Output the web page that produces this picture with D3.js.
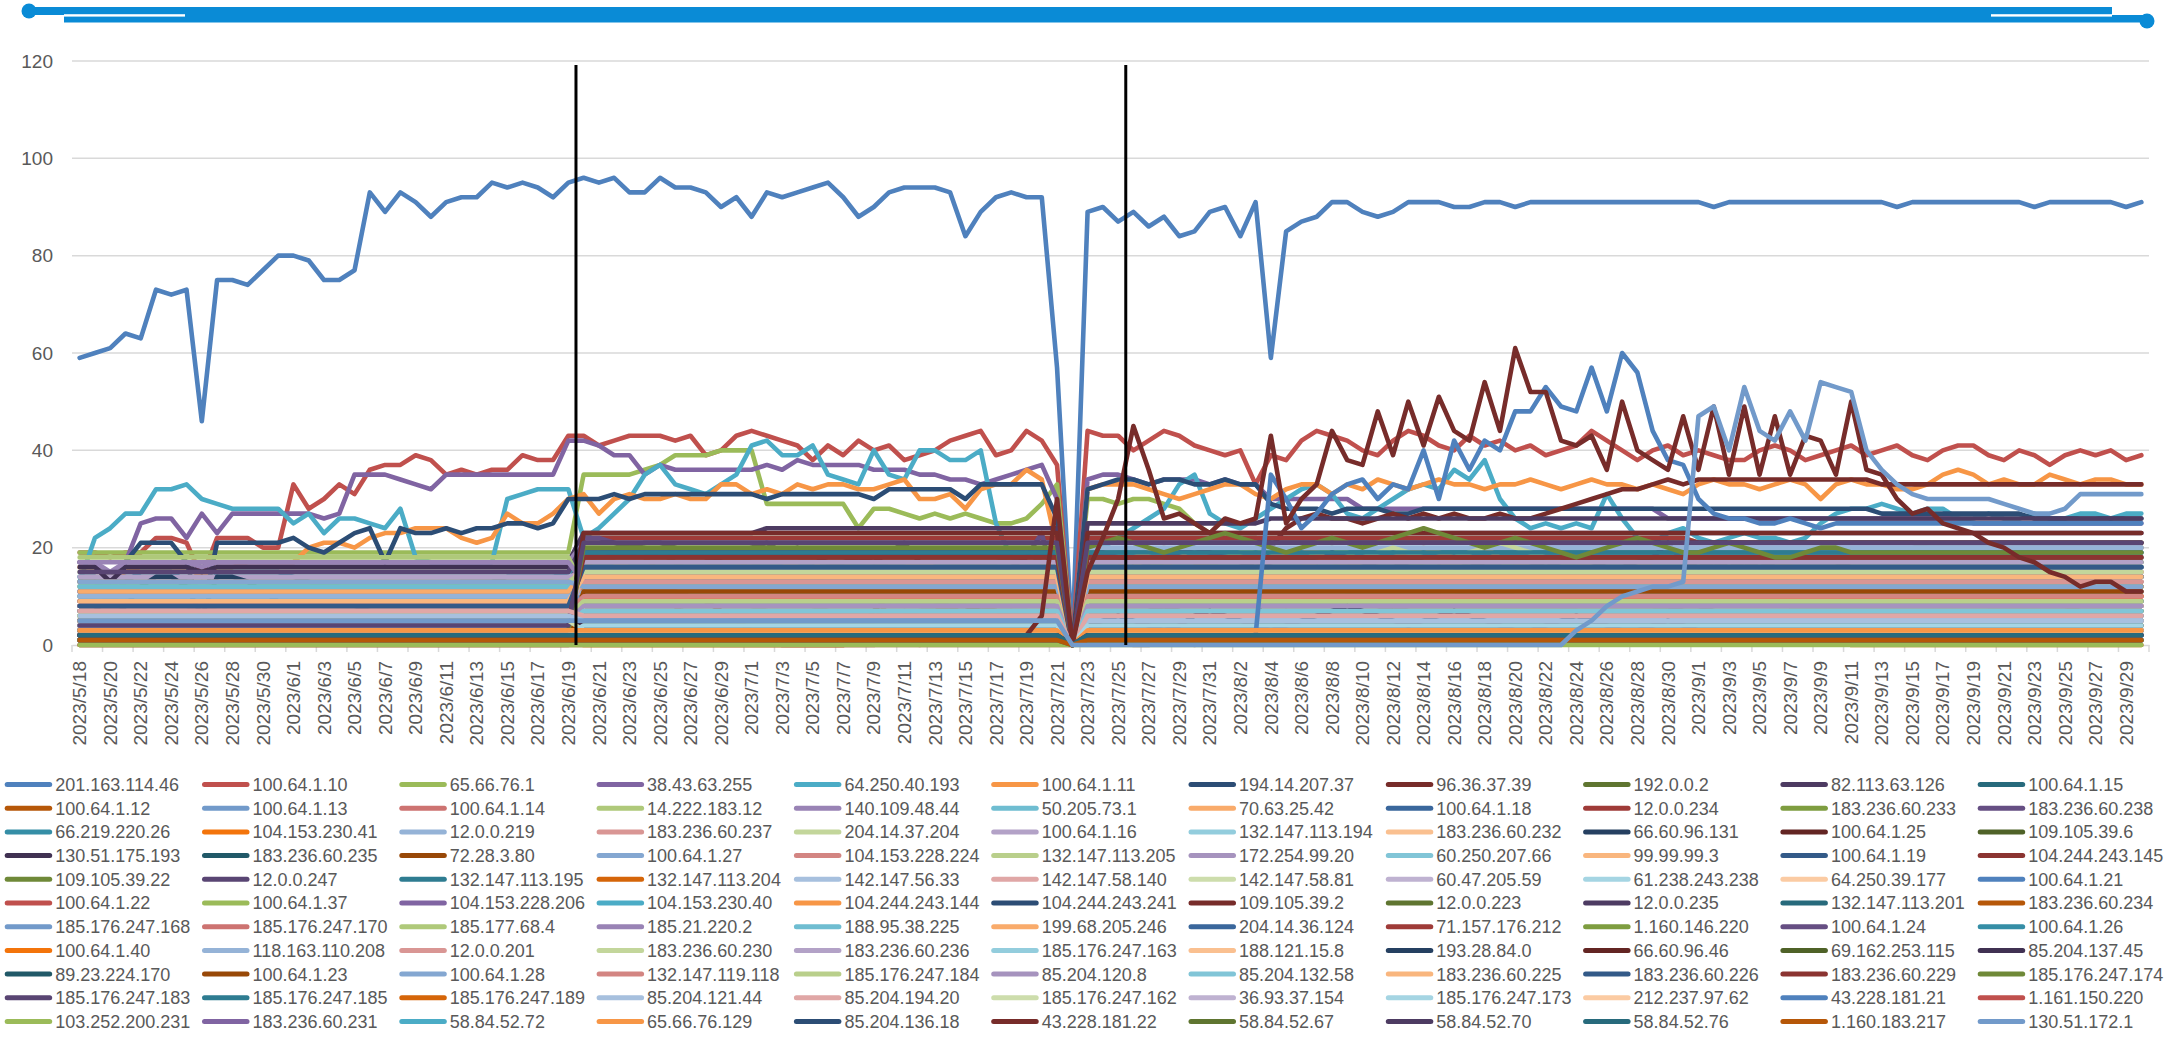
<!DOCTYPE html>
<html><head><meta charset="utf-8">
<script src="https://cdn.jsdelivr.net/npm/d3@7"></script>
<style>body{margin:0;background:#fff}svg{display:block}text{font-family:"Liberation Sans",Arial,sans-serif}</style>
</head><body><svg id="chart" width="2179" height="1048"></svg>
<script>
// ---------- categories ----------
const firstDay = [2023, 4, 18];   // 2023/5/18
const lastDay  = [2023, 8, 30];   // 2023/9/30
const yTicks = [0, 20, 40, 60, 80, 100, 120];
const markerDays = ["2023/6/20", "2023/7/26"];

// ---------- series names (legend order) ----------
const ips = [
"201.163.114.46","100.64.1.10","65.66.76.1","38.43.63.255","64.250.40.193","100.64.1.11","194.14.207.37","96.36.37.39","192.0.0.2","82.113.63.126","100.64.1.15",
"100.64.1.12","100.64.1.13","100.64.1.14","14.222.183.12","140.109.48.44","50.205.73.1","70.63.25.42","100.64.1.18","12.0.0.234","183.236.60.233","183.236.60.238",
"66.219.220.26","104.153.230.41","12.0.0.219","183.236.60.237","204.14.37.204","100.64.1.16","132.147.113.194","183.236.60.232","66.60.96.131","100.64.1.25","109.105.39.6",
"130.51.175.193","183.236.60.235","72.28.3.80","100.64.1.27","104.153.228.224","132.147.113.205","172.254.99.20","60.250.207.66","99.99.99.3","100.64.1.19","104.244.243.145",
"109.105.39.22","12.0.0.247","132.147.113.195","132.147.113.204","142.147.56.33","142.147.58.140","142.147.58.81","60.47.205.59","61.238.243.238","64.250.39.177","100.64.1.21",
"100.64.1.22","100.64.1.37","104.153.228.206","104.153.230.40","104.244.243.144","104.244.243.241","109.105.39.2","12.0.0.223","12.0.0.235","132.147.113.201","183.236.60.234",
"185.176.247.168","185.176.247.170","185.177.68.4","185.21.220.2","188.95.38.225","199.68.205.246","204.14.36.124","71.157.176.212","1.160.146.220","100.64.1.24","100.64.1.26",
"100.64.1.40","118.163.110.208","12.0.0.201","183.236.60.230","183.236.60.236","185.176.247.163","188.121.15.8","193.28.84.0","66.60.96.46","69.162.253.115","85.204.137.45",
"89.23.224.170","100.64.1.23","100.64.1.28","132.147.119.118","185.176.247.184","85.204.120.8","85.204.132.58","183.236.60.225","183.236.60.226","183.236.60.229","185.176.247.174",
"185.176.247.183","185.176.247.185","185.176.247.189","85.204.121.44","85.204.194.20","185.176.247.162","36.93.37.154","185.176.247.173","212.237.97.62","43.228.181.21","1.161.150.220",
"103.252.200.231","183.236.60.231","58.84.52.72","65.66.76.129","85.204.136.18","43.228.181.22","58.84.52.67","58.84.52.70","58.84.52.76","1.160.183.217","130.51.172.1"];

// ---------- reusable value runs ----------
const q1 = "13 13 10 13 15 15 15 13 8 15 15 15 15 15 14 13 12 12 11 11 11 10 10 11 12 13 13 13 14 14 14 14 15";
const q2 = "8 8 5 8 12 14 14 12 6 14 14 13 11 9 9 9 8 8 8 7 7 7 6 6 6 6 6 5 5 5 5 4 4";
const wA = "15 19 19 20 18 15 13 15 16 17 18 15 12 11 14 16 16 17 15 12 10 8 9 10 12 14 17 15 13 11 12 11";
const wB = "10*6 8 6 5 5 6 7 8 9 9 8 7 6 6 5 5 6 7 8 9 10 10 9 8 8 9 4";
const wC = "19 19 17 16 14 13 16 15 12 13 16 16 15 16 17 18 13 11 10 12 16 16 17 16 15 14 12 9 8 9 10 12";
const wD = "0*18 2 5 9 10 9 8 7 9 8 7 7 6 6 5";
const wE = "9*6 8 5 3 0*11 4 2 0 3 5 5 6 5 4 4 6 5";
const wF = "10 11*6 10 9 7 5 3 1 0*19";
const wG = "18 18 18 19 20 19 17 15 16 18 18 17 15 14 15 16 16 16 17 17 16 15 15 16 16 17 16 17 18 19 17 16";
const wH = "22 22 21 20 21 21 20 19 18 18 19 20 21 19 20 18 17 17 18 17 19 21 17 16 15 14 14 15 16 18 23 10";
const pA = "12 14 15 16 18 17 15 13 12 11 10 9 12 14 16 17 18 16 15 14 14 15 16 16 17 15 13 12 12 13 14 15 16 17 18 18 17 16 15 14 13 13 12 12 13 13 14 14 15 15 15 14 14 13 13 13 12 12 12 12 12*10";
const pB = "14 15 16 18 19 20 19 17 16 15 14 16 18 19 20 19 18 17 16 17 18 19 20 19 18 19 20 18 17 16 15 14 13 12 12 11 11 10 10 10 11 12 13 14 15 16 17 18 18 17 16 15 14 13 12 11 10 9 9 8 8*5 7*5";
const pC = "16 15 14 15 16 17 18 17 16 18 19 20 19 18 17 19 20 19 17 16 15 16 17 18 17 16 15 16 17 17 16 15 14 14 13 13 12 12 13 14 14 15 15 14 13 13 12 12 12 12 12*20";
const pD = "5 5 5 6 6 7 8 9 10 11 12 11 10 12 14 15 16 17 18 19 20 19 18 17 18 19 20 21 20 19 18 17 16 14 12 10 9 8 7 7 7 6 6 6 6 5*25";
const pE = "18 19 18 17 17 18 19 20 19 18 17 16 17 18 18 17 19 18 17 16 16 17 18 17 16 16 17 17 18 17 16 17 18 17 16 16 17 18 21 17 16 17 16 17 16 17*5 16*12 15*8";
const pF = "8 9 10 9 8 7 8 9 11 12 11 10 9 8 9 10 11 10 9 8 7 8 9 10 11 12 13 12 11 10 9 8 8 9 10 11 10 9 8 7 7 8 9 10 10 9 8 8 8 8 8*20";
const pG = "20 21 22 21 20 19 20 21 22 23 22 21 20 19 20 21 22 21 20 21 22 23 24 23 22 21 20 21 22 21 20 19 18 19 20 21 22 21 20 19 19 20 21 20 19 18 18 19 20 20 19*20";
const pH = "4 5 6 5 4 3 4 6 7 6 5 4 3 4 5 6 7 8 7 6 5 4 5 6 7 6 5 4 3 3 4 5 6 5 4 3 3 4 5 4 3 3 3 3 3 3*25";

// ---------- series values, one string per series, legend order ----------
const seriesValues = [
/*201.163.114.46*/ "59 60 61 64 63 73 72 73 46 75 75 74 77 80 80 79 75 75 77 93 89 93 91 88 91 92 92 95 94 95 94 92 95 96 95 96 93 93 96 94 94 93 90 92 88 93 92 93 94 95 92 88 90 93 94 94 94 93 84 89 92 93 92 92 57 0 89 90 87 89 86 88 84 85 89 90 84 91 59 85 87 88 91 91 89 88 89 91 91 91 90 90 91 91 90 91*12 90 91*11 90 91*8 90 91*5 90 91",
/*100.64.1.10*/ "19 19 18 19 19 22 22 21 14 22 22 22 20 20 33 28 30 33 31 36 37 37 39 38 35 36 35 36 36 39 38 38 43 43 41 42 43 43 43 42 43 39 40 43 44 43 42 41 38 41 39 42 40 41 38 39 40 42 43 44 39 40 44 42 37 0 44 43 43 40 42 44 43 41 40 39 40 33 39 38 42 44 43 42 40 39 42 44 43 41 40 43 41 42 40 41 39 40 41 44 42 40 38 40 41 39 40 39 38 38 40 41 40 38 39 40 41 39 40 41 39 38 40 41 41 39 38 40 39 37 39 40 39 40 38 39",
/*65.66.76.1*/ "19*33 35 35 35 35 36 37 39 39 39 40 40 40 29 29 29 29 29 29 24 28 28 27 26 27 26 27 26 25 25 26 29 33 0 30 30 29 30 30 29 28 25 23 22 22*30 21*15 20*15",
/*38.43.63.255*/ "17 17 14 17 25 26 26 22 27 23 27 27 27 27 27 27 26 27 35 35 35 34 33 32 35 35 35 35 35 35 35 35 42 42 41 39 39 35 37 36 36 36 36 36 36 37 36 38 37 37 37 37 36 36 36 35 35 34 34 33 34 35 36 37 30 0 34 35 35 34 33 34 34 34 33 34 33 33 30*6 28*20 26*20 25*12",
/*64.250.40.193*/ "13 22 24 27 27 32 32 33 30 29 28 28 28 28 25 27 23 26 26 25 24 28 18 17 17 17 17 17 30 31 32 32 32 22 24 27 30 35 37 33 32 31 33 35 41 42 39 39 41 35 34 33 40 35 34 40 40 38 38 40 25 18 17 17 17 0 17 20 22 24 26 28 33 35 27 25 24 26 28 30 32 33 31 27 26 28 30 32 33 32 36 34 38 30 26 24 25 24 25 24 31 26 22 21 23 24 22 21 22 23 22 22 21 22 25 27 28 28 29 28 27 28 28 26 26 27 26 26 27 26 26 27 27 26 27 27",
/*100.64.1.11*/ "16 16 13 15 16 16 16 16 14 16 16 17 17 17 17 20 21 21 20 22 23 23 24 24 24 22 21 22 27 25 25 27 30 31 27 30 31 30 30 31 30 30 33 33 31 32 31 33 32 33 33 32 32 33 34 30 30 31 28 32 33 33 36 34 20 0 32 33 33 33 32 31 30 31 32 33 33 31 30 32 33 33 31 33 32 34 33 32 33 34 33 33 32 33 33 34 33 32 33 34 33 33 32 33 32 31 33 34 33 33 32 33 34 33 30 33 34 33 33 32 32 33 35 36 35 33 34 33 33 35 34 33 34 34 33 33",
/*194.14.207.37*/ "14 14 11 17 21 21 21 17 6 21 21 21 21 21 22 20 19 21 23 24 17 24 23 23 24 23 24 24 25 25 24 25 30 30 30 31 30 31 31 31 31 31 31 31 31 30 31 31 31 31 31 31 30 32 32 32 32 32 30 33 33 33 33 33 26 0 32 33 34 34 33 34 34 33 33 34 33 33 29 28 28 28 27 28 28 28 27 27 28*30 27*10 26*8",
/*96.36.37.39*/ "2*8 1 3*24 3*32 0 3*12 20 24 26 27 26 26 25 26 27 26 27 26 27 26 26 27 26 26 27 28 29 30 31 32 32 33 34 33 34 34*11 33*18",
/*192.0.0.2*/ "5*2 3 5*5 4 5*24 22*32 0 22*12 21*58",
/*82.113.63.126*/ "17*2 14 17*5 16 17*24 23*12 24*20 0 25*12 26*58",
/*100.64.1.15*/ "10*2 8 10*5 9 10*24 19*32 0 19*70",
/*100.64.1.12*/ "4*33 13*32 0 13*20 12*50",
/*100.64.1.13*/ "12*2 9 12*5 10 12*24 16*32 0 17*70",
/*100.64.1.14*/ "8*2 6 8*5 7 8*24 11*32 0 11*35 10*35",
/*14.222.183.12*/ `15*33 ${wG} 0 ${pC}`,
/*140.109.48.44*/ "17*2 15 17*5 16 17*24 21*32 0 21*30 20*40",
/*50.205.73.1*/ "14*2 12 14*5 11 14*24 16*32 0 15*70",
/*70.63.25.42*/ `9*33 ${wA} 0 ${pB}`,
/*100.64.1.18*/ "6*2 4 6*5 5 6*24 5*32 0 5*70",
/*12.0.0.234*/ "3*33 22*32 0 22*40 21*30",
/*183.236.60.233*/ "2*33 9*32 0 9*70",
/*183.236.60.238*/ `11*2 9 11*5 10 11*24 ${wH} 0 ${pE}`,
/*66.219.220.26*/ `${q1} 17*32 0 18*70`,
/*104.153.230.41*/ `1*33 ${wD} 0 6*20 8*20 9*30`,
/*12.0.0.219*/ "10*2 8 10*5 9 10*24 19*32 0 20*70",
/*183.236.60.237*/ "9*2 7 9*5 8 9*24 14*32 0 14*70",
/*204.14.37.204*/ `7*33 ${wB} 0 ${pD}`,
/*100.64.1.16*/ "14*33 15*32 0 14*70",
/*132.147.113.194*/ "12*33 8*32 0 8*70",
/*183.236.60.232*/ `10*33 ${wC} 0 ${pA}`,
/*66.60.96.131*/ `${q2} 14*32 0 14*70`,
/*100.64.1.25*/ "2*33 14*32 0 14*70",
/*109.105.39.6*/ "1*33 3*32 0 3*70",
/*130.51.175.193*/ "16*2 13 16*5 15 16*24 19*32 0 21*70",
/*183.236.60.235*/ "5*33 11*32 0 11*70",
/*72.28.3.80*/ "0*33 0*18 3 7 10 11 10 9 8 8 7 7 6 6 6 5 0 5*70",
/*100.64.1.27*/ "11*33 7*32 0 7*70",
/*104.153.228.224*/ `6*33 ${wE} 0 4 3 2 0 0 4 2 0 3 5 6 5 4 4 5 6 5 5 4 5*51`,
/*132.147.113.205*/ "13*33 15*32 0 16*70",
/*172.254.99.20*/ `8*33 10*32 0 ${pF}`,
/*60.250.207.66*/ "7*33 5*32 0 5*70",
/*99.99.99.3*/ "5*33 9*32 0 9*70",
/*100.64.1.19*/ "4*33 16*32 0 16*70",
/*104.244.243.145*/ "3*33 18*32 0 18*70",
/*109.105.39.22*/ "2*33 17*32 0 17*70",
/*12.0.0.247*/ "15*33 21*32 0 23*70",
/*132.147.113.195*/ "1*33 19*32 0 19*70",
/*132.147.113.204*/ "2*33 13*32 0 13*70",
/*142.147.56.33*/ "9*33 6*32 0 6*70",
/*142.147.58.140*/ "8*33 8*32 0 8*70",
/*142.147.58.81*/ "6*33 11*32 0 11*70",
/*60.47.205.59*/ "4*33 5*32 0 5*70",
/*61.238.243.238*/ "3*33 4*32 0 4*70",
/*64.250.39.177*/ "2*33 16*32 0 15*70",
/*100.64.1.21*/ "1*33 12*32 0 12*70",
/*100.64.1.22*/ `0*33 ${wF} 0 10*70`,
/*100.64.1.37*/ "12*33 4*32 0 4*70",
/*104.153.228.206*/ "11*33 6*32 0 6*70",
/*104.153.230.40*/ "10*33 7*32 0 7*70",
/*104.244.243.144*/ "9*33 12*32 0 12*70",
/*104.244.243.241*/ "8*33 14*32 0 14*70",
/*109.105.39.2*/ "3*33 23*32 0 23*70",
/*12.0.0.223*/ "1*33 2*32 0 2*70",
/*12.0.0.235*/ "7*33 3*32 0 3*70",
/*132.147.113.201*/ "2*33 2*32 0 2*70",
/*183.236.60.234*/ "3*33 12*32 0 12*70",
/*185.176.247.168*/ "11*33 9*32 0 9*70",
/*185.176.247.170*/ "13*33 10*32 0 10*70",
/*185.177.68.4*/ "18*33 12*32 0 12*70",
/*185.21.220.2*/ "17*33 13*32 0 13*70",
/*188.95.38.225*/ "12*33 14*32 0 14*70",
/*199.68.205.246*/ "11*33 15*32 0 15*70",
/*204.14.36.124*/ "5*33 16*32 0 16*70",
/*71.157.176.212*/ "4*33 6*32 0 6*70",
/*1.160.146.220*/ "6*33 7*32 0 7*70",
/*100.64.1.24*/ "9*33 8*32 0 8*70",
/*100.64.1.26*/ "7*33 9*32 0 9*70",
/*100.64.1.40*/ "5*33 10*32 0 10*70",
/*118.163.110.208*/ "10*33 11*32 0 11*70",
/*12.0.0.201*/ "8*33 13*32 0 13*70",
/*183.236.60.230*/ "6*33 15*32 0 15*70",
/*183.236.60.236*/ "4*33 17*32 0 17*70",
/*185.176.247.163*/ "3*33 6*32 0 6*70",
/*188.121.15.8*/ "2*33 8*32 0 8*70",
/*193.28.84.0*/ "1*33 4*32 0 4*70",
/*66.60.96.46*/ "2*33 3*32 0 3*70",
/*69.162.253.115*/ "1*33 1*32 0 1*70",
/*85.204.137.45*/ `3*33 5*32 0 ${pH}`,
/*89.23.224.170*/ "2*33 2*32 0 2*70",
/*100.64.1.23*/ "1*33 11*32 0 11*70",
/*100.64.1.28*/ "13*33 12*32 0 12*70",
/*132.147.119.118*/ "7*33 10*32 0 10*70",
/*185.176.247.184*/ "6*33 9*32 0 9*70",
/*85.204.120.8*/ "5*33 8*32 0 8*70",
/*85.204.132.58*/ "4*33 7*32 0 7*70",
/*183.236.60.225*/ "9*33 14*32 0 14*70",
/*183.236.60.226*/ "8*33 16*32 0 16*70",
/*183.236.60.229*/ "5*33 18*32 0 18*70",
/*185.176.247.174*/ `3*33 20*32 0 ${pG}`,
/*185.176.247.183*/ "4*33 21*32 0 21*70",
/*185.176.247.185*/ "2*33 1*32 0 1*70",
/*185.176.247.189*/ "1*33 1*32 0 1*50 0*20",
/*85.204.121.44*/ "6*33 5*32 0 5*70",
/*85.204.194.20*/ "7*33 6*32 0 6*70",
/*185.176.247.162*/ "5*33 3*32 0 3*70",
/*36.93.37.154*/ "3*33 2*32 0 2*70",
/*185.176.247.173*/ "2*33 4*32 0 4*70",
/*212.237.97.62*/ "1*33 3*32 0 3*70",
/*43.228.181.21*/ "1*33 1*32 0 2*12 35 30 24 27 31 33 34 30 33 32 40 30 42 36 42 40 48 48 53 49 48 57 48 60 56 44 38 37 30 27 26 26 25 25 26 25 24 25 25 25*19",
/*1.161.150.220*/ "1*33 1*32 0 1*70",
/*103.252.200.231*/ "0*136",
/*183.236.60.231*/ "2*33 2*32 0 2*70",
/*58.84.52.72*/ "1*33 1*32 0 1*70",
/*65.66.76.129*/ "3*33 3*32 0 3*70",
/*85.204.136.18*/ "2*33 2*32 0 2*70",
/*43.228.181.22*/ "2*33 2*30 6 30 0 15 22 30 45 36 26 27 25 23 26 25 26 43 25 30 33 44 38 37 48 39 50 41 51 44 42 54 44 61 52 52 42 41 43 36 50 40 38 36 47 36 49 35 49 35 47 35 43 42 35 50 36 35 30 27 28 25 24 23 21 20 18 17 15 14 12 13 13 11 11",
/*58.84.52.67*/ "1*33 1*32 0 1*70",
/*58.84.52.70*/ "2*33 2*32 0 2*70",
/*58.84.52.76*/ "2*33 2*32 0 2*70",
/*1.160.183.217*/ "1*33 1*32 0 1*70",
/*130.51.172.1*/ "5*33 5*32 0 0*31 0 3 5 8 10 11 12 12 13 47 49 40 53 44 42 48 42 54 53 52 40 36 33 31 30 30 30 30 30 29 28 27 27 28 31 31 31 31 31"
];

// ---------- palette (Office theme accents with shade/tint steps) ----------
const accents = ["#4F81BD","#C0504D","#9BBB59","#8064A2","#4BACC6","#F79646"];
const lumSteps = [[1,0],[0.6,0],[0.8,0.2],[0.8,0],[0.6,0.4],[0.5,0],[0.7,0.3],[0.7,0],[0.5,0.5]];

// ---------- helpers ----------
function decode(str, name) {
  const out = [];
  str.trim().split(/\s+/).forEach(t => {
    const [v, n] = t.split("*");
    const c = n ? +n : 1;
    for (let i = 0; i < c; i++) out.push(+v);
  });
  if (out.length !== 136) console.error("length", name, out.length);
  return out;
}
function seriesColor(k) {
  const h = d3.hsl(accents[k % 6]);
  const s = lumSteps[Math.floor(k / 6) % 9];
  h.l = h.l * s[0] + s[1];
  return h.formatHex();
}

const fmt = d3.timeFormat("%Y/%-m/%-d");
const days = d3.timeDay.range(new Date(...firstDay), d3.timeDay.offset(new Date(...lastDay), 1));
const dates = days.map(fmt);
const series = ips.map((ip, k) => ({ name: ip, color: seriesColor(k), values: decode(seriesValues[k], ip) }));

// ---------- layout ----------
const svg = d3.select("#chart");
const plot = { left: 72, right: 2149, top: 61, bottom: 645 };
const x = d3.scaleBand().domain(dates).range([plot.left, plot.right]).padding(0);
const y = d3.scaleLinear().domain([0, 120]).range([plot.bottom, plot.top]);
const bw = x.bandwidth();
const cx = d => x(d) + bw / 2;

// top connector graphic
const blue = "#0A8BD6";
const conn = svg.append("g");
conn.append("rect").attr("x", 29).attr("y", 7).attr("width", 2112 - 29).attr("height", 8).attr("fill", blue);
conn.append("rect").attr("x", 64).attr("y", 15).attr("width", 2147 - 64).attr("height", 7.5).attr("fill", blue);
conn.append("rect").attr("x", 64).attr("y", 14.2).attr("width", 185 - 64).attr("height", 2.4).attr("fill", "#fff");
conn.append("rect").attr("x", 1991).attr("y", 14.2).attr("width", 2112 - 1991).attr("height", 2.4).attr("fill", "#fff");
conn.append("circle").attr("cx", 29).attr("cy", 11).attr("r", 7.5).attr("fill", blue);
conn.append("circle").attr("cx", 2147).attr("cy", 21).attr("r", 7.5).attr("fill", blue);

// gridlines
svg.append("g").selectAll("line").data(yTicks.filter(v => v > 0)).join("line")
  .attr("x1", plot.left).attr("x2", plot.right)
  .attr("y1", d => y(d)).attr("y2", d => y(d))
  .attr("stroke", "#D9D9D9").attr("stroke-width", 1.5);

// y axis labels
const yAxis = svg.append("g").attr("transform", `translate(${plot.left},0)`)
  .call(d3.axisLeft(y).tickValues(yTicks).tickSize(0).tickPadding(19));
yAxis.select(".domain").remove();
yAxis.selectAll("text").attr("font-size", 19).attr("fill", "#595959")
  .attr("font-family", "'Liberation Sans', Arial, sans-serif");

// x axis
const xAxis = svg.append("g").attr("transform", `translate(0,${plot.bottom})`)
  .call(d3.axisBottom(x).tickValues(dates.filter((d, i) => i % 2 === 0)).tickSize(0));
xAxis.select(".domain").attr("stroke", "#D9D9D9").attr("stroke-width", 1.5);
xAxis.selectAll(".tick text")
  .attr("font-size", 19).attr("fill", "#595959")
  .attr("font-family", "'Liberation Sans', Arial, sans-serif")
  .attr("text-anchor", "end")
  .attr("transform", "rotate(-90)")
  .attr("x", -16).attr("y", 0).attr("dy", "0.35em");
svg.append("g").selectAll("line").data(dates.filter((d, i) => i % 2 === 0).concat(["__end"])).join("line")
  .attr("x1", d => d === "__end" ? plot.right : x(d)).attr("x2", d => d === "__end" ? plot.right : x(d))
  .attr("y1", plot.bottom).attr("y2", plot.bottom + 7)
  .attr("stroke", "#D9D9D9").attr("stroke-width", 1.5);

// series lines
const line = d3.line().x((d, i) => cx(dates[i])).y(d => y(d));
svg.append("g").selectAll("path").data(series).join("path")
  .attr("d", s => line(s.values))
  .attr("fill", "none").attr("stroke", s => s.color)
  .attr("stroke-width", 4.6).attr("stroke-linejoin", "round").attr("stroke-linecap", "round");

// black marker lines
svg.append("g").selectAll("line").data(markerDays).join("line")
  .attr("x1", d => x(d)).attr("x2", d => x(d))
  .attr("y1", 65).attr("y2", plot.bottom)
  .attr("stroke", "#000").attr("stroke-width", 3);

// legend
const cols = 11, colW = 197.3, row0 = 784.5, rowH = 23.7;
const leg = svg.append("g").selectAll("g").data(series).join("g")
  .attr("transform", (s, k) => `translate(${4.7 + (k % cols) * colW},${row0 + Math.floor(k / cols) * rowH})`);
leg.append("line").attr("x1", 2.5).attr("x2", 45).attr("y1", 0).attr("y2", 0)
  .attr("stroke", s => s.color).attr("stroke-width", 5).attr("stroke-linecap", "round");
leg.append("text").attr("x", 50.5).attr("y", 0).attr("dy", "0.36em")
  .attr("font-size", 18).attr("fill", "#595959").text(s => s.name);
</script>
</body></html>
